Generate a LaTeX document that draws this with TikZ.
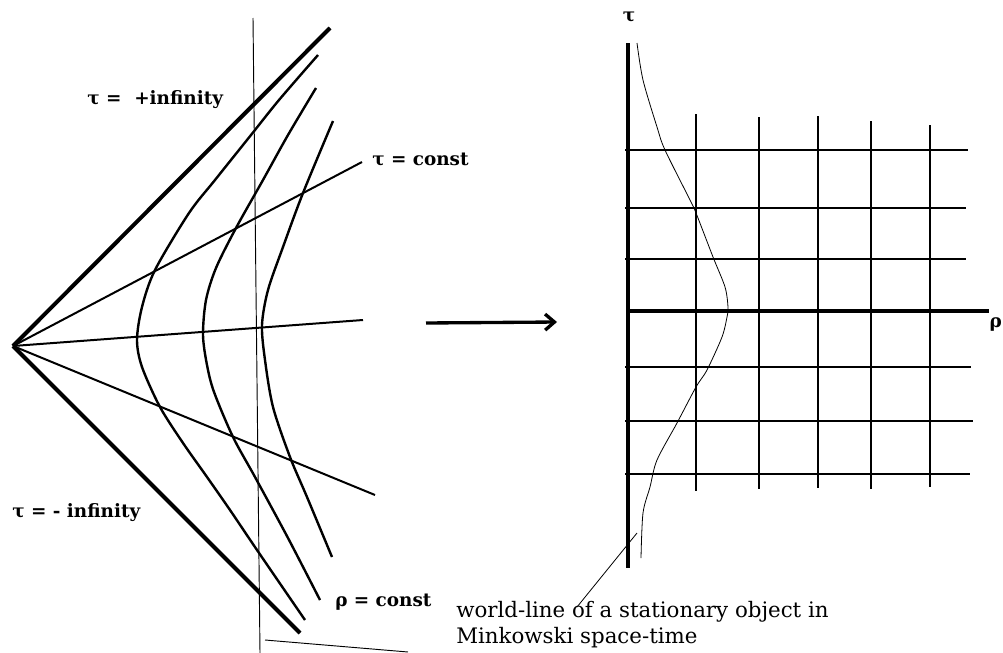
\documentclass[tikz,border=0pt]{standalone}
\usepackage{fontspec}
\setmainfont{DejaVu Serif}
\usetikzlibrary{arrows.meta}
\begin{document}
\begin{tikzpicture}[x=0.75pt,y=-0.75pt,
  cone/.style={line width=3pt},
  hyp/.style={line width=1.8pt},
  tauline/.style={line width=1.5pt},
  thinline/.style={line width=0.7pt},
  gridline/.style={line width=2.2pt},
  axisline/.style={line width=3pt},
  worldline/.style={line width=0.6pt},
  lbl/.style={font=\bfseries\fontsize{13.8}{16}\selectfont, inner sep=0pt},
  note/.style={font=\fontsize{16}{19.5}\selectfont, inner sep=0pt, align=left},
  ]
\useasboundingbox (0,0) rectangle (1003,653);
% ---------- left: Rindler wedge ----------
\coordinate (O) at (13,346);
\coordinate (cu) at (330,28);
\coordinate (cl) at (300,633);
\coordinate (t1) at (362,162);
\coordinate (t0) at (363,320);
\coordinate (t2) at (375,495);
\draw[cone] (O) -- (cu);
\draw[cone] (O) -- (cl);
\draw[tauline] (O) -- (t1);
\draw[tauline] (O) -- (t0);
\draw[tauline] (O) -- (t2);
\draw[hyp] plot[smooth] coordinates {(318,55) (279,100) (251,135) (215,180) (189,213) (155,270) (142,307) (137,340) (142,367) (160,407) (183,443) (207,477) (230,510) (257,550) (305,620)};
\draw[hyp] plot[smooth] coordinates {(316,88) (288,135) (263,180) (236,228) (216,268) (206,300) (203,335) (207,365) (214,392) (233,437) (255,477) (288,538) (320,600)};
\draw[hyp] plot[smooth] coordinates {(333,121) (303,193) (283,247) (268,290) (262,325) (265,360) (273,407) (290,457) (307,497) (332,557)};
\coordinate (v1) at (253,18);
\coordinate (v2) at (260,653);
\draw[thinline] (v1) -- (v2);
\coordinate (b1) at (265,640);
\coordinate (b2) at (408,652);
\draw[thinline] (b1) -- (b2);
\node[lbl, anchor=west] (tinf) at (87,100) {τ =\ \ +infinity};
\node[lbl, anchor=west] (tconst) at (372,160) {τ = const};
\node[lbl, anchor=west] (tminf) at (12,513) {τ = - infinity};
\node[lbl, anchor=west] (rconst) at (335,602) {ρ = const};
% ---------- arrow ----------
\coordinate (a1) at (426,323);
\coordinate (a2) at (557,322);
\draw[line width=2.5pt, -{Straight Barb[length=7pt,width=12pt,line width=2.5pt]}] (a1) -- (a2);
% ---------- right: Minkowski grid ----------
\coordinate (tautop) at (628,43);
\coordinate (taubot) at (628,568);
\draw[axisline] (tautop) -- (taubot);
\node[lbl, anchor=center] (taulbl) at (629,17) {τ};
\foreach \y/\xe in {150/968, 208/966, 259/966, 367/971, 421/973, 474/970} {
  \draw[gridline] (625,\y) -- (\xe,\y);
}
\coordinate (rho1) at (626,311);
\coordinate (rho2) at (989,311);
\draw[axisline] (rho1) -- (rho2);
\node[lbl, anchor=east] (rholbl) at (1002,324) {ρ};
\foreach \x/\yt/\yb in {696/114/491, 759/117/489, 818/116/488, 871/121/489, 930/125/487} {
  \draw[gridline] (\x,\yt) -- (\x,\yb);
}
\draw[worldline] plot[smooth] coordinates {(637,43) (643,80) (657,127) (665,150) (690,200) (696,213) (713,257) (725,287) (728,307) (727,317) (722,337) (707,370) (696,387) (677,423) (657,460) (650,487) (643,513) (641,558)};
\node[note, anchor=north west] (wlnote) at (456,601) {world-line of a stationary object in\\Minkowski space-time};
\coordinate (lead1) at (577,607);
\coordinate (lead2) at (637,533);
\draw[worldline] (lead1) -- (lead2);
\end{tikzpicture}
\end{document}
